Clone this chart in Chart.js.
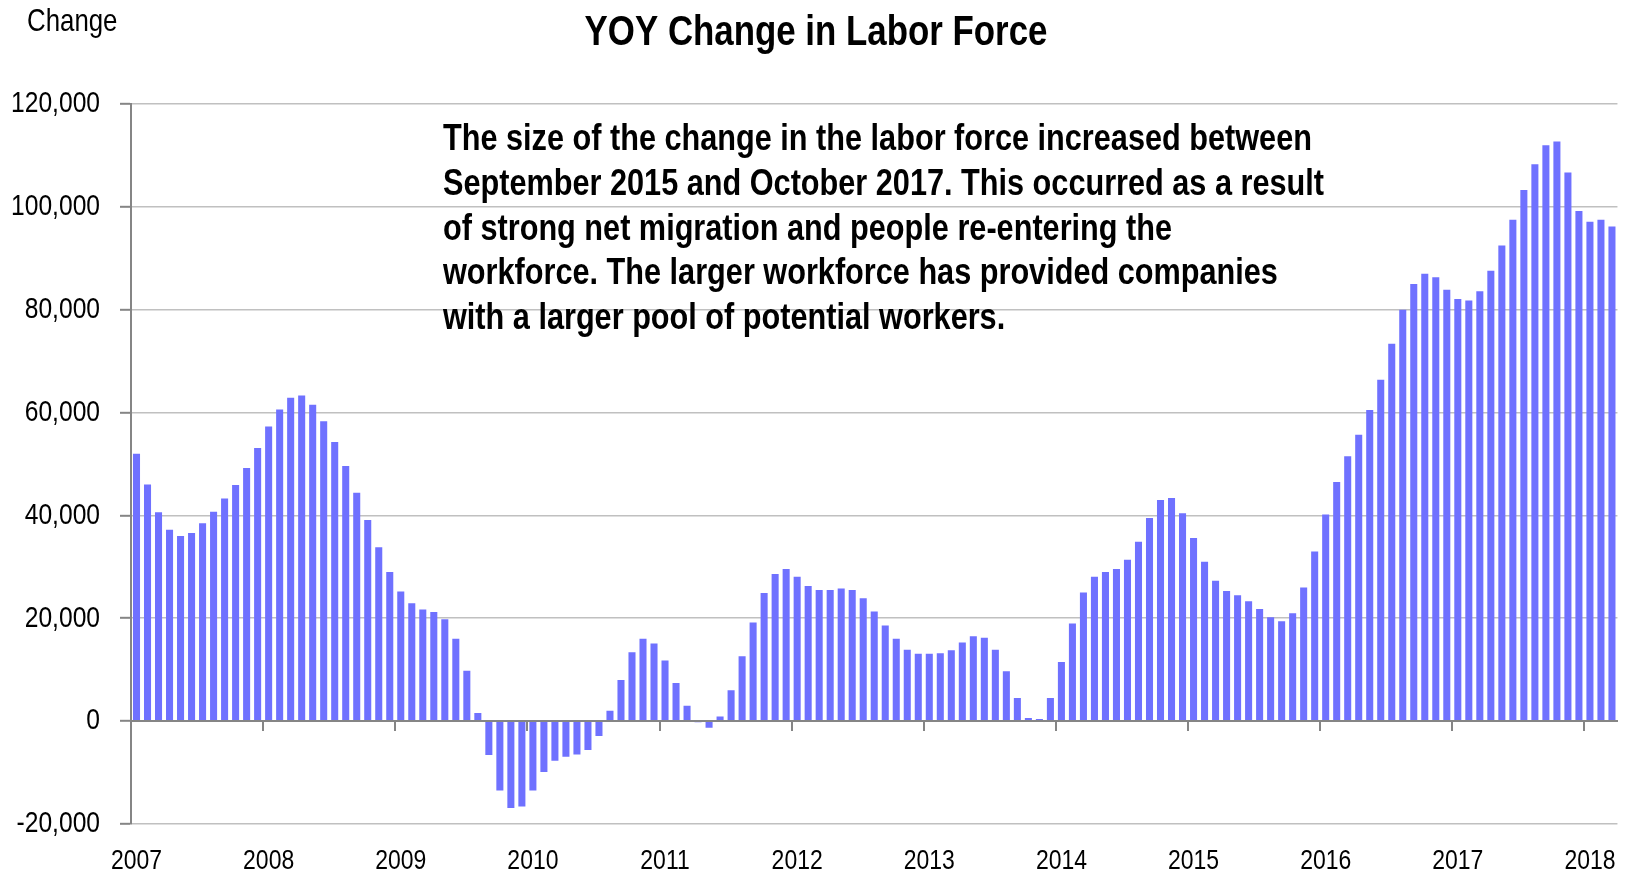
<!DOCTYPE html>
<html>
<head>
<meta charset="utf-8">
<script src="https://cdn.jsdelivr.net/npm/chart.js@4.4.1/dist/chart.umd.min.js"></script>
<style>
  html, body { margin: 0; padding: 0; background: #ffffff; overflow: hidden; }
  #wrap { width: 1632px; height: 875px; position: relative; }
</style>
</head>
<body>
<div id="wrap"><canvas id="c" width="1632" height="875"></canvas></div>
<script>
// ---------------- data ----------------
const years  = ['2007','2008','2009','2010','2011','2012','2013','2014','2015','2016','2017','2018'];
const months = ['Jan','Feb','Mar','Apr','May','Jun','Jul','Aug','Sep','Oct','Nov','Dec'];

const lf2007 = [52000, 46000, 40600, 37200, 36000, 36600, 38500, 40700, 43300, 45900, 49200, 53100];
const lf2008 = [57300, 60600, 62900, 63300, 61500, 58300, 54300, 49600, 44400, 39100, 33800, 29000];
const lf2009 = [25200, 22900, 21700, 21200, 19800, 16000, 9800, 1600, -6600, -13500, -16900, -16600];
const lf2010 = [-13500, -9900, -7700, -6900, -6500, -5600, -2900, 2000, 8000, 13400, 16000, 15100];
const lf2011 = [11800, 7400, 3000, -200, -1300, 900, 6000, 12600, 19200, 24900, 28600, 29600];
const lf2012 = [28100, 26300, 25500, 25500, 25800, 25500, 23900, 21300, 18600, 16000, 13900, 13100];
const lf2013 = [13100, 13200, 13800, 15300, 16500, 16200, 13900, 9700, 4500, 600, 400, 4500];
const lf2014 = [11500, 19000, 25000, 28100, 29000, 29600, 31400, 34900, 39500, 43000, 43400, 40400];
const lf2015 = [35600, 31000, 27300, 25300, 24500, 23300, 21800, 20200, 19400, 21000, 26000, 33000];
const lf2016 = [40200, 46500, 51500, 55700, 60500, 66400, 73400, 80000, 85000, 87000, 86300, 83900];
const lf2017 = [82100, 81800, 83600, 87600, 92500, 97500, 103300, 108300, 112000, 112700, 106700, 99200];
const lf2018 = [97100, 97500, 96200];

const yTickMin = -20000, yTickMax = 120000, yTickStep = 20000;

const titleText = 'YOY Change in Labor Force';
const yUnitText = 'Change';
const noteLines = [
  'The size of the change in the labor force increased between',
  'September 2015 and October 2017. This occurred as a result',
  'of strong net migration and people re-entering the',
  'workforce. The larger workforce has provided companies',
  'with a larger pool of potential workers.'
];

// ---------------- assemble ----------------
const values = [].concat(lf2007, lf2008, lf2009, lf2010, lf2011, lf2012, lf2013, lf2014, lf2015, lf2016, lf2017, lf2018);
const labels = [];
years.forEach(y => months.forEach(m => labels.push(m + ' ' + y)));
labels.length = values.length;

// ---------------- font detection ----------------
function fontAvailable(name) {
  const c = document.createElement('canvas').getContext('2d');
  const s = 'abcdefghijklmnopqrstuvwxyz0123456789ABCDEFGHIJKLMNOP';
  c.font = '30px monospace'; const a = c.measureText(s).width;
  c.font = '30px "' + name + '", monospace'; const b = c.measureText(s).width;
  c.font = '30px serif'; const d = c.measureText(s).width;
  c.font = '30px "' + name + '", serif'; const e = c.measureText(s).width;
  return a !== b || d !== e;
}
let narrowFamily = null;
['Liberation Sans Narrow', 'Arial Narrow'].forEach(f => { if (!narrowFamily && fontAvailable(f)) narrowFamily = f; });
const hasNarrow = !!narrowFamily;
const family = hasNarrow ? '"' + narrowFamily + '"' : '"Liberation Sans", Arial, sans-serif';
const squeeze = hasNarrow ? 1 : 0.82;   // horizontal squeeze imitating a narrow face when none is installed

Chart.defaults.font.family = family;
Chart.defaults.color = '#000000';

// ---------------- text plugins ----------------
function squeezedText(ctx, text, x, y, font, align) {
  ctx.save();
  ctx.font = font;
  ctx.fillStyle = '#000000';
  ctx.textBaseline = 'alphabetic';
  ctx.textAlign = align;
  ctx.translate(x, y);
  ctx.scale(squeeze, 1);
  ctx.fillText(text, 0, 0);
  ctx.restore();
}
const narrowTicksPlugin = {
  id: 'narrowTicks',
  beforeDraw(chart) {
    if (squeeze === 1) return;
    const ctx = chart.ctx;
    const orig = CanvasRenderingContext2D.prototype.fillText;
    ctx.fillText = function (t, x, y, mw) {
      this.save();
      this.translate(x, y);
      this.scale(squeeze, 1);
      if (mw === undefined) orig.call(this, t, 0, 0); else orig.call(this, t, 0, 0, mw / squeeze);
      this.restore();
    };
  },
  afterDraw(chart) {
    if (Object.prototype.hasOwnProperty.call(chart.ctx, 'fillText')) delete chart.ctx.fillText;
  }
};
const textPlugin = {
  id: 'texts',
  afterDraw(chart) {
    const ctx = chart.ctx;
    if (Object.prototype.hasOwnProperty.call(ctx, 'fillText')) delete ctx.fillText;
    squeezedText(ctx, yUnitText, 27, 31, '31.5px ' + family, 'left');
    squeezedText(ctx, titleText, chart.width / 2, 45, 'bold 42.5px ' + family, 'center');
    noteLines.forEach((line, i) => {
      squeezedText(ctx, line, 443, 150 + i * 44.8, 'bold 37.4px ' + family, 'left');
    });
  }
};

// ---------------- chart ----------------
const gridGray = '#c0c0c0';
const axisGray = '#858585';

new Chart(document.getElementById('c'), {
  type: 'bar',
  data: {
    labels: labels,
    datasets: [{
      label: 'YOY change in labor force',
      data: values,
      backgroundColor: 'rgb(111,113,255)',
      borderWidth: 0,
      barPercentage: 0.64,
      categoryPercentage: 1.0,
      xAxisID: 'x',
      yAxisID: 'y'
    }]
  },
  options: {
    responsive: false,
    animation: false,
    devicePixelRatio: 1,
    layout: { padding: { left: 0, top: 104, right: 11, bottom: 0 } },
    plugins: {
      legend: { display: false },
      title: { display: false },
      tooltip: { enabled: false }
    },
    scales: {
      x: {
        type: 'category',
        position: 'bottom',
        offset: true,
        grid: { display: false, drawTicks: false },
        border: { display: false },
        ticks: {
          autoSkip: false,
          maxRotation: 0,
          minRotation: 0,
          padding: 20,
          font: { size: 28 },
          color: '#000000',
          callback: (v, i) => (i % 12 === 0 ? years[i / 12] : '')
        },
        afterFit: s => { s.height = 51; }
      },
      x0: {
        type: 'category',
        position: { y: 0 },
        offset: true,
        ticks: { display: false },
        grid: {
          display: true,
          drawOnChartArea: false,
          drawTicks: true,
          tickLength: 9,
          offset: true,
          lineWidth: 2,
          color: c => (typeof c.index === 'number' && c.index % 12 === 0) ? axisGray : 'rgba(0,0,0,0)'
        },
        border: { display: true, color: axisGray, width: 2, z: 1 }
      },
      y: {
        type: 'linear',
        position: 'left',
        min: yTickMin,
        max: yTickMax,
        ticks: {
          stepSize: yTickStep,
          padding: 20,
          font: { size: 30 },
          color: '#000000',
          callback: v => v.toLocaleString('en-US')
        },
        grid: {
          color: gridGray,
          lineWidth: 1.6,
          drawTicks: true,
          tickLength: 11,
          tickColor: axisGray,
          tickWidth: 2
        },
        border: { display: true, color: axisGray, width: 2, z: 1 },
        afterFit: s => { s.width = 131; }
      }
    }
  },
  plugins: [narrowTicksPlugin, textPlugin]
});
</script>
</body>
</html>
